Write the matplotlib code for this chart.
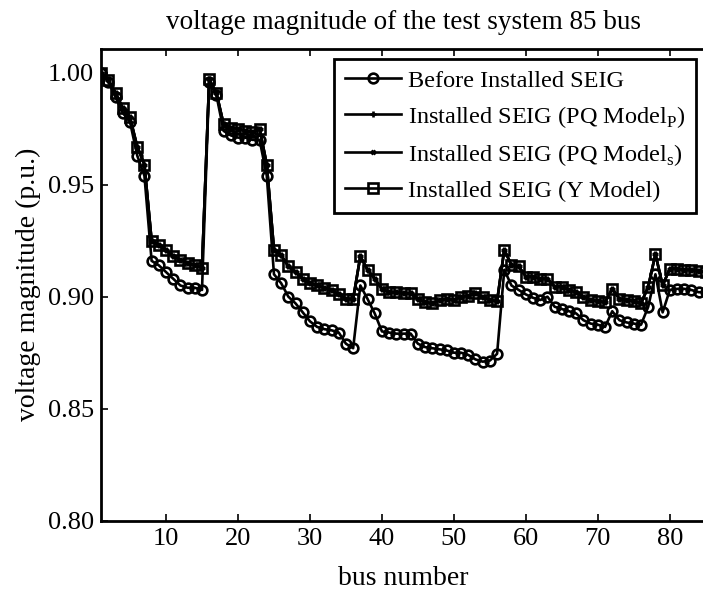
import matplotlib
matplotlib.use("Agg")
import matplotlib.pyplot as plt
import numpy as np

# bus voltages (p.u.)
BUSES = np.arange(1, 86)
V_BEFORE = [
    1.000, 0.996, 0.989, 0.982, 0.978, 0.963, 0.954, 0.916, 0.914, 0.911,
    0.908, 0.905, 0.904, 0.904, 0.903, 0.996, 0.990, 0.974, 0.972, 0.971,
    0.971, 0.970, 0.970, 0.954, 0.910, 0.906, 0.900, 0.897, 0.893, 0.889,
    0.8865, 0.8855, 0.885, 0.884, 0.879, 0.877, 0.905, 0.899, 0.8925, 0.8845,
    0.884, 0.8835, 0.8835, 0.8835, 0.879, 0.8775, 0.877, 0.8765, 0.876, 0.875,
    0.875, 0.874, 0.872, 0.871, 0.8715, 0.8745, 0.912, 0.905, 0.903, 0.901,
    0.8995, 0.8985, 0.900, 0.8955, 0.8945, 0.8935, 0.8925, 0.8895, 0.888, 0.8875,
    0.8865, 0.8935, 0.8895, 0.8885, 0.888, 0.8875, 0.8955, 0.910, 0.893, 0.903,
    0.9035, 0.9035, 0.903, 0.902, 0.902,
]
# the three installed-SEIG models coincide at this scale
V_INSTALLED = [
    1.000, 0.9967, 0.991, 0.984, 0.980, 0.967, 0.959, 0.925, 0.923, 0.921,
    0.918, 0.9165, 0.915, 0.914, 0.913, 0.997, 0.991, 0.977, 0.9755, 0.975,
    0.974, 0.9735, 0.975, 0.959, 0.921, 0.9185, 0.9135, 0.911, 0.908, 0.906,
    0.905, 0.904, 0.903, 0.901, 0.899, 0.899, 0.918, 0.912, 0.908, 0.9035,
    0.902, 0.902, 0.9015, 0.9015, 0.899, 0.8975, 0.897, 0.8985, 0.899, 0.8985,
    0.900, 0.9005, 0.9015, 0.900, 0.8985, 0.898, 0.921, 0.914, 0.9135, 0.909,
    0.909, 0.908, 0.908, 0.9045, 0.9045, 0.903, 0.902, 0.900, 0.8985, 0.898,
    0.8975, 0.9035, 0.899, 0.8985, 0.898, 0.897, 0.9045, 0.919, 0.905, 0.9125,
    0.9125, 0.912, 0.912, 0.9115, 0.911,
]
LABELS = [
    "Before Installed SEIG",
    r"Installed SEIG (PQ Model$_\mathrm{P}$)",
    r"Installed SEIG (PQ Model$_\mathrm{s}$)",
    "Installed SEIG (Y Model)",
]
X_TICKS = [10, 20, 30, 40, 50, 60, 70, 80]
Y_TICKS = [0.80, 0.85, 0.90, 0.95, 1.00]

plt.rcParams.update({
    "font.family": "Liberation Serif",
    "mathtext.fontset": "custom",
    "mathtext.rm": "Liberation Serif",
    "font.size": 19,
})

fig = plt.figure(figsize=(7.03, 5.92), dpi=100)
ax = fig.add_axes([0.144, 0.1204, 0.860, 0.797])

line_kw = dict(color="black", linewidth=1.9, markeredgewidth=1.9)
ax.plot(BUSES, V_BEFORE, marker="o", markersize=7, markerfacecolor="none",
        label=LABELS[0], **line_kw)
ax.plot(BUSES, V_INSTALLED, marker="+", markersize=5, label=LABELS[1], **line_kw)
ax.plot(BUSES, V_INSTALLED, marker="x", markersize=3, label=LABELS[2], **line_kw)
ax.plot(BUSES, V_INSTALLED, marker="s", markersize=6.8, markerfacecolor="none",
        label=LABELS[3], **line_kw)

ax.set_xlim(1, 85)
ax.set_ylim(0.80, 1.0106)
ax.set_xticks(X_TICKS)
ax.set_yticks(Y_TICKS)
ax.set_yticklabels([f"{t:.2f}" for t in Y_TICKS])
ax.tick_params(direction="in", length=5, width=1.2, top=True, right=False,
               labelsize=19, pad=5)
for spine in ax.spines.values():
    spine.set_linewidth(2)

ax.set_xlabel("bus number", fontsize=20, labelpad=12)
ax.set_ylabel("voltage magnitude (p.u.)", fontsize=20, labelpad=5)
ax.set_title("voltage magnitude of the test system 85 bus", fontsize=19.5, pad=14)

leg = ax.legend(loc="upper right", fontsize=17.5, frameon=True, fancybox=False,
                edgecolor="black", framealpha=1, handlelength=2.3,
                handletextpad=0.3, borderpad=0.45, labelspacing=0.5,
                borderaxespad=0.4)
leg.get_frame().set_linewidth(2)

fig.savefig("out.png", dpi=100)
